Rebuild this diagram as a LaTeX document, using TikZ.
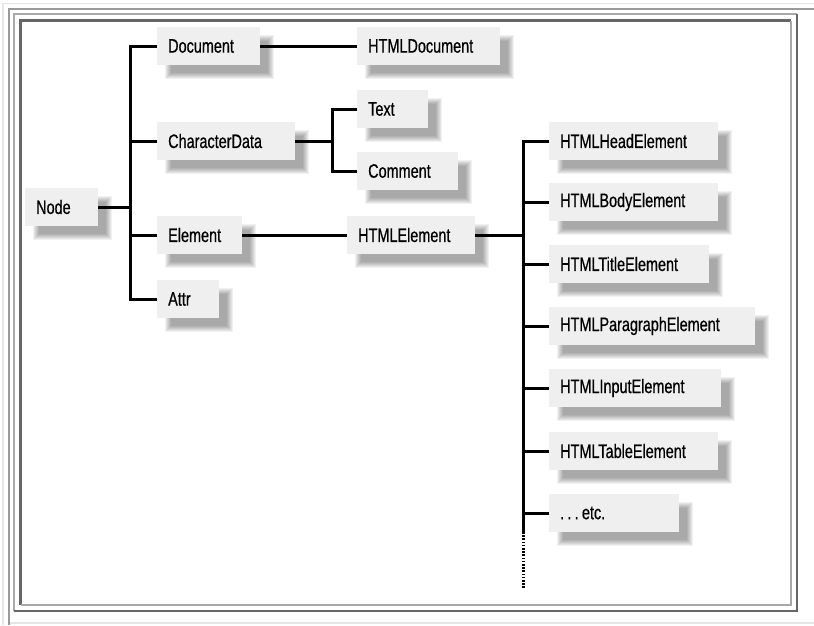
\documentclass[tikz,border=0pt]{standalone}
\usepackage{fontspec}
\newfontfamily\cond[FakeStretch=0.74,FakeBold=0.6]{Liberation Sans}
\usetikzlibrary{backgrounds}
\definecolor{boxfill}{HTML}{EFEFEF}
\definecolor{lightf}{HTML}{A8A8A8}
\definecolor{darkf}{HTML}{666666}
\definecolor{midf}{HTML}{9A9A9A}
\definecolor{faint}{HTML}{E6E6E6}
\newcommand\blurshadow[1]{%
  \begin{pgfonlayer}{background}
  \foreach \k in {-3,-2,...,3}{%
    \fill[black, opacity=0.055]
      ([shift={(11+\k,11+\k)}]#1.north west) rectangle ([shift={(11-\k,11-\k)}]#1.south east);}
  \end{pgfonlayer}}
\begin{document}
\begin{tikzpicture}[x=1pt,y=-1pt,
  cls/.style={fill=boxfill,
    inner xsep=11pt, inner ysep=0pt, minimum height=38pt, anchor=west, align=left,
    font=\cond\fontsize{19.5}{22}\selectfont, text=black},
  conn/.style={line width=3pt, black, line join=miter},
  dots/.style={line width=3pt, black, dash pattern=on 1.6pt off 1.6pt}]
\begin{pgfonlayer}{background}
\fill[white] (0,0) rectangle (814,625);
\end{pgfonlayer}
\useasboundingbox (0,0) rectangle (814,625);
% page frame
\draw[faint, line width=1.5pt] (3,625) -- (3,3.5) -- (814,3.5);
\draw[faint, line width=1.5pt] (8,623) -- (814,623);
\draw[midf, line width=2pt] (8.5,625) -- (8.5,8.5) -- (814,8.5);
\draw[lightf, line width=2pt] (14,611) -- (14,14) -- (797,14);
\draw[darkf, line width=2pt] (797,14) -- (797,611) -- (14,611);
\draw[darkf, line width=2.5pt] (20.5,605) -- (20.5,20.5) -- (791,20.5);
\draw[lightf, line width=2pt] (791,20.5) -- (791,605) -- (20.5,605);
% nodes
\node[cls, text width=51pt]  (node)    at (25,207)  {Node};
\node[cls, text width=81pt]  (doc)     at (157,46)  {Document};
\node[cls, text width=116pt] (cd)      at (157,141) {CharacterData};
\node[cls, text width=63pt]  (elem)    at (157,235) {Element};
\node[cls, text width=40pt]  (attr)    at (157,299) {Attr};
\node[cls, text width=121pt] (htmldoc) at (357,46)  {HTMLDocument};
\node[cls, text width=49pt]  (text)    at (357,109) {Text};
\node[cls, text width=79pt]  (comment) at (357,171) {Comment};
\node[cls, text width=106pt] (htmlel)  at (347,235) {HTMLElement};
\node[cls, text width=147pt] (head)    at (549,141) {HTMLHeadElement};
\node[cls, text width=147pt] (body)    at (549,202) {HTMLBodyElement};
\node[cls, text width=138pt] (title)   at (549,264) {HTMLTitleElement};
\node[cls, text width=184pt] (para)    at (549,326) {HTMLParagraphElement};
\node[cls, text width=150pt] (input)   at (549,388) {HTMLInputElement};
\node[cls, text width=147pt] (table)   at (549,451) {HTMLTableElement};
\node[cls, text width=108pt] (etc)     at (549,513) {.\,.\,.\,etc.};
\foreach \n in {node,doc,cd,elem,attr,htmldoc,text,comment,htmlel,head,body,title,para,input,table,etc}{\blurshadow{\n}}
% trunk coordinates
\coordinate (t1) at (130,0);
\coordinate (t2) at (332,0);
\coordinate (t3) at (523,0);
\coordinate (dotstart) at (523,532);
\coordinate (dotend) at (523,588);
% connectors
\draw[conn] (node.east) -- (node.east -| t1);
\draw[conn] (doc.west) -- (doc.west -| t1) -- (attr.west -| t1) -- (attr.west);
\draw[conn] (cd.west) -- (cd.west -| t1);
\draw[conn] (elem.west) -- (elem.west -| t1);
\draw[conn] (doc.east) -- (htmldoc.west);
\draw[conn] (cd.east) -- (cd.east -| t2);
\draw[conn] (text.west) -- (text.west -| t2) -- (comment.west -| t2) -- (comment.west);
\draw[conn] (elem.east) -- (htmlel.west);
\draw[conn] (htmlel.east) -- (htmlel.east -| t3);
\draw[conn] (head.west) -- (head.west -| t3) -- (dotstart);
\draw[conn] (body.west) -- (body.west -| t3);
\draw[conn] (title.west) -- (title.west -| t3);
\draw[conn] (para.west) -- (para.west -| t3);
\draw[conn] (input.west) -- (input.west -| t3);
\draw[conn] (table.west) -- (table.west -| t3);
\draw[conn] (etc.west) -- (etc.west -| t3);
\draw[dots] (dotstart) -- (dotend);
\end{tikzpicture}
\end{document}
